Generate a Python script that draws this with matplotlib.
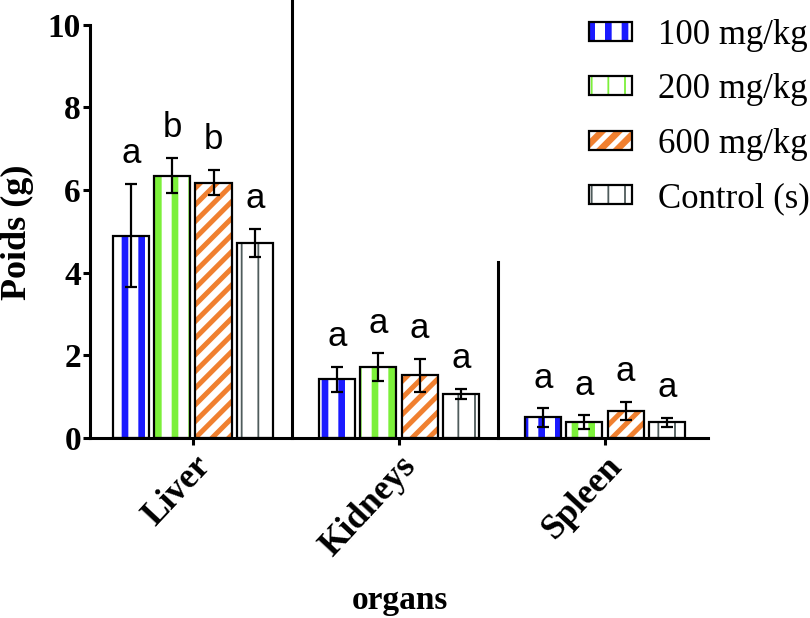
import numpy as np
import matplotlib
matplotlib.use("Agg")
import matplotlib.pyplot as plt

organs = ["Liver", "Kidneys", "Spleen"]
doses = ["100 mg/kg", "200 mg/kg", "600 mg/kg", "Control (s)"]

# mean organ weight (g) per dose, one list per organ
liver = [4.90, 6.35, 6.18, 4.72]
kidneys = [1.42, 1.72, 1.52, 1.07]
spleen = [0.50, 0.38, 0.65, 0.38]

liver_err = [1.25, 0.42, 0.30, 0.34]
kidneys_err = [0.30, 0.33, 0.40, 0.13]
spleen_err = [0.22, 0.17, 0.22, 0.10]

liver_letters = ["a", "b", "b", "a"]
kidneys_letters = ["a", "a", "a", "a"]
spleen_letters = ["a", "a", "a", "a"]

means = np.array([liver, kidneys, spleen])
errs = np.array([liver_err, kidneys_err, spleen_err])
letters = [liver_letters, kidneys_letters, spleen_letters]

# hatch style per dose: (pattern, colour, hatch line width)
styles = [("|", "#1a1aff", 4.8),
          ("|", "#7cf03a", 4.8),
          ("//", "#f08030", 3.6),
          ("|", "#4f5c5c", 1.3)]

serif = "Liberation Serif"

fig = plt.figure(figsize=(8.1, 6.18), dpi=100)
ax = fig.add_axes([0.111, 0.291, 0.763, 0.669])

x = np.arange(len(organs))
width = 0.175
offsets = [-0.3, -0.1, 0.1, 0.3]

handles = []
for i, (hatch, col, hlw) in enumerate(styles):
    plt.rcParams["hatch.linewidth"] = hlw
    hb = ax.bar(x + offsets[i], means[:, i], width, color="white",
                edgecolor=col, linewidth=0, hatch=hatch, zorder=2)
    for p in hb:
        if hasattr(p, "set_hatch_linewidth"):
            p.set_hatch_linewidth(hlw)
    eb = ax.bar(x + offsets[i], means[:, i], width, color="none",
                edgecolor="black", linewidth=1.6, zorder=3)
    ax.errorbar(x + offsets[i], means[:, i], yerr=errs[:, i], fmt="none",
                ecolor="black", elinewidth=1.6, capsize=4, capthick=1.6,
                zorder=4)
    for j in range(len(organs)):
        ax.annotate(letters[j][i], (x[j] + offsets[i], means[j, i] + errs[j, i]),
                    xytext=(0, 10), textcoords="offset points",
                    ha="center", va="bottom", fontsize=25,
                    family="Liberation Sans")
    handles.append((hb[0], eb[0]))

# group separators
ax.plot([0.48, 0.48], [0, 10.7], color="black", lw=2.2, clip_on=False, zorder=5)
ax.plot([1.48, 1.48], [0, 4.25], color="black", lw=2.2, clip_on=False, zorder=5)

ax.set_xlim(-0.5, 2.5)
ax.set_ylim(0, 10)
ax.set_yticks([0, 2, 4, 6, 8, 10])
ax.set_xticks(x)
ax.set_xticklabels(organs, rotation=47, ha="right", rotation_mode="anchor",
                   fontsize=25.5, fontweight="bold", family=serif)
for lab in ax.get_yticklabels():
    lab.set_fontsize(24)
    lab.set_fontweight("bold")
    lab.set_family(serif)

for s in ["top", "right"]:
    ax.spines[s].set_visible(False)
for s in ["left", "bottom"]:
    ax.spines[s].set_linewidth(2.2)
ax.tick_params(axis="both", width=2.2, length=5, direction="out")
ax.tick_params(axis="y", pad=1.5)

fig.text(17 / 810, 1 - 232 / 618, "Poids (g)", rotation=90, ha="center",
         va="center", fontsize=26, fontweight="bold", family=serif)
fig.text(400 / 810, 1 - 600 / 618, "organs", ha="center", va="center",
         fontsize=24, fontweight="bold", family=serif)

leg = fig.legend(handles, doses, loc="upper right", bbox_to_anchor=(1.0, 0.97),
                 frameon=False, prop={"family": serif, "size": 25},
                 handlelength=1.25, handleheight=0.45, labelspacing=0.62,
                 handletextpad=0.75, borderaxespad=0.0, borderpad=0.0)
for p, (_, _, hlw) in zip(leg.get_patches()[0::2], styles):
    if hasattr(p, "set_hatch_linewidth"):
        p.set_hatch_linewidth(hlw)

fig.savefig("out.png", dpi=100)
